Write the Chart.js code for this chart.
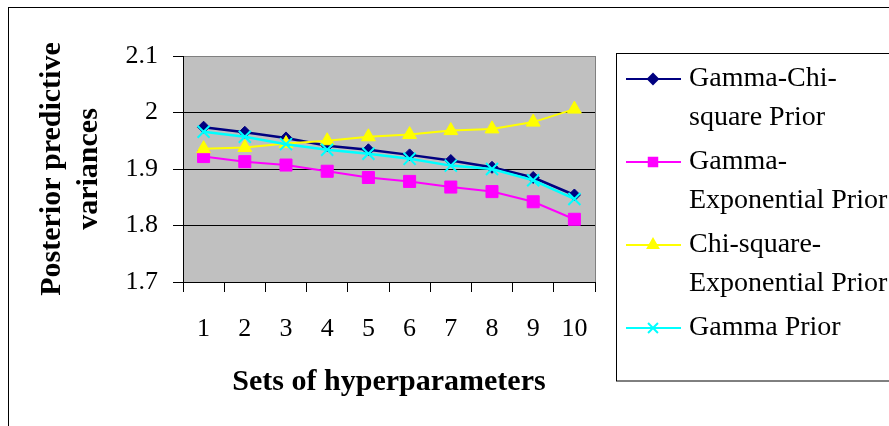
<!DOCTYPE html>
<html lang="en">
<head>
  <meta charset="UTF-8" />
  <title>Posterior predictive variances</title>
  <script src="https://cdn.jsdelivr.net/npm/chart.js"></script>
  <style>
    html, body { margin: 0; padding: 0; background: #fff; }
    #wrap { width: 889px; height: 426px; }
  </style>
</head>
<body>
  <div id="wrap"><canvas id="varChart" width="889" height="426"></canvas></div>

  <script>
    // values
    const sets = ['1', '2', '3', '4', '5', '6', '7', '8', '9', '10'];
    const gammaChiSquare = [1.974, 1.965, 1.955, 1.941, 1.934, 1.925, 1.915, 1.903, 1.885, 1.854];
    const gammaExponential = [1.922, 1.913, 1.907, 1.896, 1.885, 1.878, 1.868, 1.860, 1.842, 1.811];
    const chiSquareExponential = [1.936, 1.938, 1.945, 1.950, 1.957, 1.961, 1.968, 1.971, 1.983, 2.006];
    const gammaPrior = [1.966, 1.957, 1.944, 1.934, 1.927, 1.918, 1.906, 1.900, 1.880, 1.847];
    const yTicks = [1.7, 1.8, 1.9, 2, 2.1];
    const legendLines = [
      ['Gamma-Chi-', 'square Prior'],
      ['Gamma-', 'Exponential Prior'],
      ['Chi-square-', 'Exponential Prior'],
      ['Gamma Prior']
    ];

    const serif = "'Liberation Serif', 'Times New Roman', serif";

    // white page, outer frame, grey plot area
    const framePlugin = {
      id: 'frame',
      beforeDraw(chart) {
        const { ctx, chartArea: a } = chart;
        ctx.save();
        ctx.fillStyle = '#fff';
        ctx.fillRect(0, 0, chart.width, chart.height);
        ctx.strokeStyle = '#000';
        ctx.lineWidth = 1;
        ctx.strokeRect(8.5, 7.5, 1000, 1000);
        ctx.fillStyle = '#c0c0c0';
        ctx.fillRect(a.left, a.top, a.right - a.left, a.bottom - a.top);
        ctx.strokeStyle = '#808080';
        ctx.beginPath();
        ctx.moveTo(a.right + 0.5, a.top);
        ctx.lineTo(a.right + 0.5, a.bottom);
        ctx.stroke();
        ctx.restore();
      }
    };

    // boxed legend with wrapped labels, like the original
    const boxLegend = {
      id: 'boxLegend',
      afterDraw(chart) {
        const ctx = chart.ctx;
        ctx.save();
        ctx.strokeStyle = '#000';
        ctx.lineWidth = 1;
        ctx.strokeRect(616.5, 53.5, 400, 327.5);
        ctx.font = '28px ' + serif;
        ctx.textBaseline = 'middle';
        ctx.textAlign = 'left';
        let y = 79;
        chart.data.datasets.forEach((ds, i) => {
          ctx.strokeStyle = ds.borderColor;
          ctx.lineWidth = 2;
          ctx.beginPath();
          ctx.moveTo(626, y);
          ctx.lineTo(681, y);
          ctx.stroke();
          ctx.fillStyle = ds.backgroundColor;
          ctx.strokeStyle = ds.borderColor;
          Chart.helpers.drawPoint(ctx, {
            pointStyle: ds.pointStyle,
            radius: ds.legendRadius,
            borderWidth: ds.pointBorderWidth,
            rotation: 0
          }, 653, y);
          ctx.fillStyle = '#000';
          const lines = legendLines[i];
          lines.forEach((t, k) => ctx.fillText(t, 689, y + k * 38.5));
          y += lines.length * 38.5 + 6;
        });
        ctx.restore();
      }
    };

    new Chart(document.getElementById('varChart'), {
      type: 'line',
      data: {
        labels: sets,
        datasets: [
          {
            label: 'Gamma-Chi-square Prior',
            data: gammaChiSquare,
            borderColor: '#000080',
            backgroundColor: '#000080',
            borderWidth: 2.5,
            pointStyle: 'rectRot',
            pointRadius: 6,
            pointBorderWidth: 1,
            legendRadius: 5,
            order: 3
          },
          {
            label: 'Gamma-Exponential Prior',
            data: gammaExponential,
            borderColor: '#ff00ff',
            backgroundColor: '#ff00ff',
            borderWidth: 2,
            pointStyle: 'rect',
            pointRadius: 8.5,
            pointBorderWidth: 1,
            legendRadius: 6,
            order: 2
          },
          {
            label: 'Chi-square-Exponential Prior',
            data: chiSquareExponential,
            borderColor: '#ffff00',
            backgroundColor: '#ffff00',
            borderWidth: 2,
            pointStyle: 'triangle',
            pointRadius: 8,
            pointBorderWidth: 1,
            legendRadius: 6,
            order: 1
          },
          {
            label: 'Gamma Prior',
            data: gammaPrior,
            borderColor: '#00ffff',
            backgroundColor: '#00ffff',
            borderWidth: 2.5,
            pointStyle: 'crossRot',
            pointRadius: 8.5,
            pointBorderWidth: 2,
            legendRadius: 7,
            order: 0
          }
        ]
      },
      options: {
        responsive: false,
        animation: false,
        devicePixelRatio: 1,
        layout: { padding: { left: 8, top: 56, right: 294, bottom: 26 } },
        elements: { line: { tension: 0 } },
        plugins: {
          legend: { display: false },
          tooltip: { enabled: false }
        },
        scales: {
          x: {
            offset: true,
            grid: {
              offset: true,
              drawOnChartArea: false,
              tickLength: 10,
              color: '#000',
              tickColor: '#000'
            },
            border: { color: '#000', width: 1 },
            ticks: { color: '#000', padding: 22, font: { family: serif, size: 26 } },
            title: {
              display: true,
              text: 'Sets of hyperparameters',
              color: '#000',
              font: { family: serif, size: 30, weight: 'bold', lineHeight: 1.2 },
              padding: { top: 0, bottom: 0 }
            },
            afterFit(s) { s.height = 118; }
          },
          y: {
            min: 1.7,
            max: 2.1,
            afterBuildTicks(s) { s.ticks = yTicks.map(v => ({ value: v })); },
            grid: {
              tickLength: 10,
              color: c => (c.tick && c.tick.value === 2.1 ? '#808080' : '#000'),
              tickColor: '#000'
            },
            border: { color: '#000', width: 1 },
            ticks: {
              color: '#000',
              padding: 15,
              font: { family: serif, size: 26 },
              callback: v => String(v)
            },
            title: {
              display: true,
              text: ['Posterior predictive', 'variances'],
              color: '#000',
              font: { family: serif, size: 30, weight: 'bold', lineHeight: 1.233 },
              padding: { top: 26, bottom: 0 }
            },
            afterFit(s) { s.width = 175; }
          }
        }
      },
      plugins: [framePlugin, boxLegend]
    });
  </script>
</body>
</html>
